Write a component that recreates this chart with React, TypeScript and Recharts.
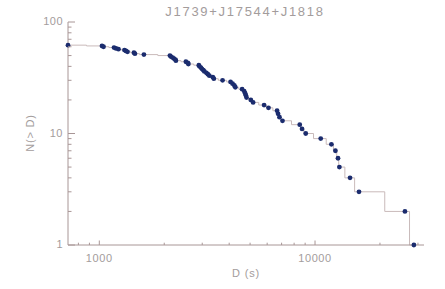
import React from 'react';
import { ComposedChart, XAxis, YAxis, Line, Scatter } from 'recharts';

// Durations D (s), sorted ascending, and the cumulative count N(> D) at each
const durations = [
  716, 1029, 1046, 1170, 1195, 1227, 1308, 1329, 1351, 1447, 1463, 1610,
  2125, 2147, 2187, 2218, 2253, 2265, 2520, 2574, 2588, 2894, 2910, 2956,
  2988, 3036, 3069, 3135, 3186, 3237, 3360, 3396, 3727, 4059, 4147, 4227,
  4272, 4592, 4692, 4742, 4778, 4814, 5040, 5164, 5806, 6085, 6670, 6741,
  6843, 7065, 8495, 8706, 9056, 10627, 11910, 12430, 12780, 12970, 14530,
  15990, 26110, 28730,
];
const counts = [
  62, 61, 60, 59, 58, 57, 56, 55, 54, 53, 52, 51, 50, 49, 48, 47, 46, 45, 44,
  43, 42, 41, 40, 39, 38, 37, 36, 35, 34, 33, 32, 31, 30, 29, 28, 27, 26, 25,
  24, 23, 22, 21, 20, 19, 18, 17, 16, 15, 14, 13, 12, 11, 10, 9, 8, 7, 6, 5,
  4, 3, 2, 1,
];

const xDomain = [716, 32000];
const yDomain = [1, 100];
const xTicks = [800, 900, 1000, 2000, 3000, 4000, 5000, 6000, 7000, 8000, 9000, 10000, 20000, 30000];
const xMajor = [1000, 10000];
const yTicks = [1, 2, 3, 4, 5, 6, 7, 8, 9, 10, 20, 30, 40, 50, 60, 70, 80, 90, 100];
const yMajor = [1, 10, 100];

const title = 'J1739+J17544+J1818';
const xLabel = 'D (s)';
const yLabel = 'N(> D)';

const AXIS = '#a89696';
const TEXT = '#a39c9c';
const STEP = '#c9baba';
const DOT = '#1b2c6e';
const FONT = '"Liberation Sans", Arial, sans-serif';

const points = durations.map((d, i) => ({ d, n: counts[i] }));
const stepData: { d: number; n: number }[] = [];
points.forEach((p, i) => {
  stepData.push(p);
  const next = points[i + 1];
  if (next) {
    const mid = (p.d + next.d) / 2;
    stepData.push({ d: mid, n: p.n });
    stepData.push({ d: mid, n: next.n });
  }
});

const BottomTick = (props: any) => {
  const { x, y, payload } = props;
  const major = xMajor.includes(payload.value);
  return (
    <g>
      <line x1={x} x2={x} y1={y} y2={y - (major ? 4.5 : 2.3)} stroke={AXIS} strokeWidth={1} />
      {major && (
        <text x={x} y={y + 17} textAnchor="middle" fill={TEXT} fontSize={11} letterSpacing={0.6} fontFamily={FONT}>
          {payload.value}
        </text>
      )}
    </g>
  );
};

const TopTick = (props: any) => {
  const { x, y, payload } = props;
  const major = xMajor.includes(payload.value);
  return <line x1={x} x2={x} y1={y} y2={y + (major ? 4.5 : 2.3)} stroke={AXIS} strokeWidth={1} />;
};

const LeftTick = (props: any) => {
  const { x, y, payload } = props;
  const major = yMajor.includes(payload.value);
  return (
    <g>
      <line x1={x} x2={x + (major ? 7 : 3.5)} y1={y} y2={y} stroke={AXIS} strokeWidth={1} />
      {major && (
        <text x={x - 5} y={y} dy="0.3em" textAnchor="end" fill={TEXT} fontSize={11} letterSpacing={0.5} fontFamily={FONT}>
          {payload.value}
        </text>
      )}
    </g>
  );
};

const RightTick = (props: any) => {
  const { x, y, payload } = props;
  const major = yMajor.includes(payload.value);
  return <line x1={x} x2={x - (major ? 7 : 3.5)} y1={y} y2={y} stroke={AXIS} strokeWidth={1} />;
};

const Dot = (p: any) => <circle cx={p.cx} cy={p.cy} r={2.4} fill={DOT} />;

export default function App() {
  return (
    <div style={{ position: 'absolute', left: 0, top: 0, width: 445, height: 289, background: '#fff' }}>
      <ComposedChart width={445} height={289} margin={{ top: 22, right: 21, bottom: 0, left: 0 }}>
        <XAxis
          xAxisId="b"
          dataKey="d"
          type="number"
          scale="log"
          domain={xDomain}
          ticks={xTicks}
          interval={0}
          height={44}
          tickSize={0}
          tickMargin={0}
          tickLine={false}
          axisLine={{ stroke: AXIS }}
          tick={<BottomTick />}
        />
        <XAxis
          xAxisId="t"
          orientation="top"
          dataKey="d"
          type="number"
          scale="log"
          domain={xDomain}
          allowDataOverflow
          ticks={xTicks}
          interval={0}
          height={0}
          tickSize={0}
          tickMargin={0}
          tickLine={false}
          axisLine={{ stroke: AXIS }}
          tick={<TopTick />}
        />
        <YAxis
          yAxisId="l"
          dataKey="n"
          type="number"
          scale="log"
          domain={yDomain}
          ticks={yTicks}
          interval={0}
          width={68}
          tickSize={0}
          tickMargin={0}
          tickLine={false}
          axisLine={{ stroke: AXIS }}
          tick={<LeftTick />}
        />
        <YAxis
          yAxisId="r"
          orientation="right"
          dataKey="n"
          type="number"
          scale="log"
          domain={yDomain}
          allowDataOverflow
          ticks={yTicks}
          interval={0}
          width={0}
          tickSize={0}
          tickMargin={0}
          tickLine={false}
          axisLine={{ stroke: AXIS }}
          tick={<RightTick />}
        />
        <Line
          xAxisId="b"
          yAxisId="l"
          data={stepData}
          dataKey="n"
          type="linear"
          stroke={STEP}
          strokeWidth={1}
          dot={false}
          activeDot={false}
          isAnimationActive={false}
        />
        <Scatter
          xAxisId="b"
          yAxisId="l"
          data={points}
          dataKey="n"
          fill={DOT}
          shape={<Dot />}
          isAnimationActive={false}
        />
      </ComposedChart>
      <svg width={445} height={289} style={{ position: 'absolute', left: 0, top: 0, pointerEvents: 'none' }}>
        <text x={245} y={16} textAnchor="middle" fill={TEXT} fontSize={13} letterSpacing={1.7} fontFamily={FONT}>
          {title}
        </text>
        <text x={246} y={277} textAnchor="middle" fill={TEXT} fontSize={11} letterSpacing={0.8} fontFamily={FONT}>
          {xLabel}
        </text>
        <text
          x={30}
          y={133}
          transform="rotate(-90 30 133)"
          textAnchor="middle"
          dy="0.35em"
          fill={TEXT}
          fontSize={11}
          letterSpacing={0.8}
          fontFamily={FONT}
        >
          {yLabel}
        </text>
      </svg>
    </div>
  );
}
